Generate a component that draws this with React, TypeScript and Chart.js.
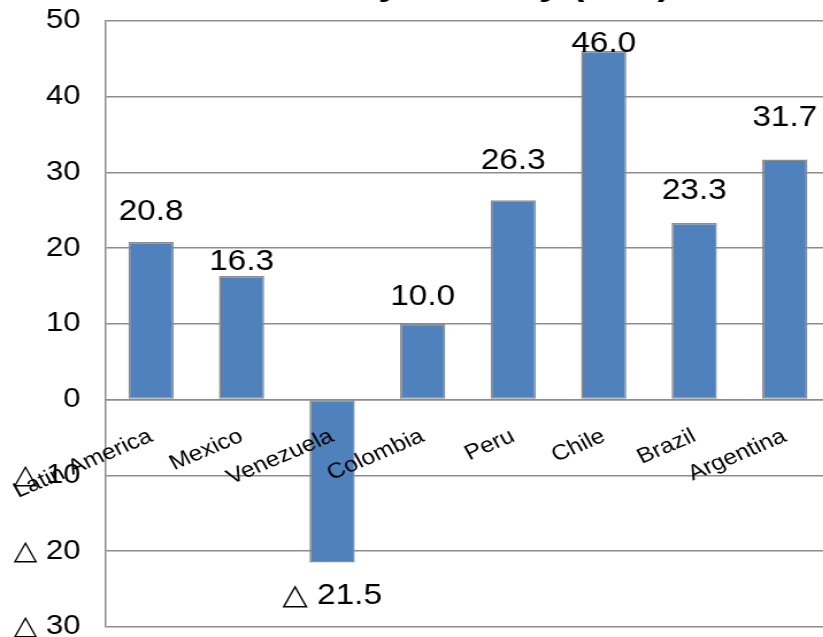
import React, { useEffect, useRef } from "react";
import { Chart, registerables } from "chart.js";

Chart.register(...registerables);

// Categories and values
const categories: string[] = [
  "Latin America",
  "Mexico",
  "Venezuela",
  "Colombia",
  "Peru",
  "Chile",
  "Brazil",
  "Argentina",
];
const values: number[] = [20.8, 16.3, -21.5, 10.0, 26.3, 46.0, 23.3, 31.7];

// Value axis
const yMin = -30;
const yMax = 50;
const yStep = 10;

const titleText = "EPS by Country (YoY)";

// Distance (px) from the bar end to the centre of its value label
const labelGap: number[] = [30, 14, 34, 27, 39, 7, 32, 41];

const FONT = "'Liberation Sans', Arial, 'DejaVu Sans', sans-serif";

// The chart is drawn narrow and widened by CSS, giving wide lettering
const STRETCH = 1.15;
const OUT_W = 830;
const OUT_H = 709;
const TOP_SHIFT = 44;
const CANVAS_W = Math.round(OUT_W / STRETCH);

// Negative numbers are written with a leading triangle
const fmt = (v: number, digits: number) =>
  v < 0 ? "\u25B3 " + Math.abs(v).toFixed(digits) : v.toFixed(digits);

const valueLabels = {
  id: "valueLabels",
  afterDatasetsDraw(chart: any) {
    const { ctx } = chart;
    const meta = chart.getDatasetMeta(0);
    ctx.save();
    ctx.font = `29px ${FONT}`;
    ctx.fillStyle = "#000";
    ctx.textAlign = "center";
    ctx.textBaseline = "middle";
    meta.data.forEach((bar: any, i: number) => {
      const v = values[i];
      const gap = labelGap[i] ?? 20;
      const y = v >= 0 ? bar.y - gap : bar.y + gap;
      ctx.fillText(fmt(v, 1), bar.x, y);
    });
    ctx.restore();
  },
};

export default function App() {
  const ref = useRef<HTMLCanvasElement>(null);

  useEffect(() => {
    if (!ref.current) return;
    const chart = new Chart(ref.current, {
      type: "bar",
      data: {
        labels: categories,
        datasets: [
          {
            data: values,
            backgroundColor: "#4F81BD",
            borderColor: "#8c8c8c",
            borderWidth: 1.5,
            borderSkipped: false,
            barPercentage: 0.5,
            categoryPercentage: 1,
          },
        ],
      },
      options: {
        responsive: false,
        animation: false,
        maintainAspectRatio: false,
        layout: { padding: { left: 0, right: 0, top: 0, bottom: 8 } },
        plugins: {
          legend: { display: false },
          tooltip: { enabled: false },
          title: {
            display: true,
            text: titleText,
            fullSize: false,
            color: "#000",
            font: { family: FONT, size: 34, weight: "bold" },
            padding: { top: 9, bottom: 15 },
          },
        },
        scales: {
          x: {
            position: { y: 0 },
            afterFit: (s: any) => {
              // the category labels sit inside the plot, so they claim no room
              s.height = 0;
              s.paddingLeft = 0;
              s.paddingRight = 0;
              s.paddingTop = 0;
              s.paddingBottom = 0;
            },
            grid: { display: false, drawTicks: false },
            border: { display: true, color: "#8c8c8c", width: 1.5 },
            ticks: {
              z: 1,
              color: "#000",
              font: { family: FONT, size: 21.5 },
              minRotation: 26,
              maxRotation: 26,
              autoSkip: false,
              padding: 24,
            },
          },
          y: {
            min: yMin,
            max: yMax,
            afterFit: (s: any) => {
              s.width = 92;
            },
            grid: { color: "#8c8c8c", lineWidth: 1.5, drawTicks: false },
            border: { display: true, color: "#8c8c8c", width: 1.5 },
            ticks: {
              stepSize: yStep,
              color: "#000",
              font: { family: FONT, size: 27 },
              padding: 22,
              callback: (v: any) => fmt(Number(v), 0),
            },
          },
        },
      },
      plugins: [valueLabels],
    });
    return () => chart.destroy();
  }, []);

  return (
    <div
      style={{
        position: "fixed",
        left: 0,
        top: -TOP_SHIFT,
        width: OUT_W,
        height: OUT_H,
        background: "#fff",
      }}
    >
      <canvas
        ref={ref}
        width={CANVAS_W}
        height={OUT_H}
        style={{ width: OUT_W, height: OUT_H, display: "block" }}
      />
    </div>
  );
}
